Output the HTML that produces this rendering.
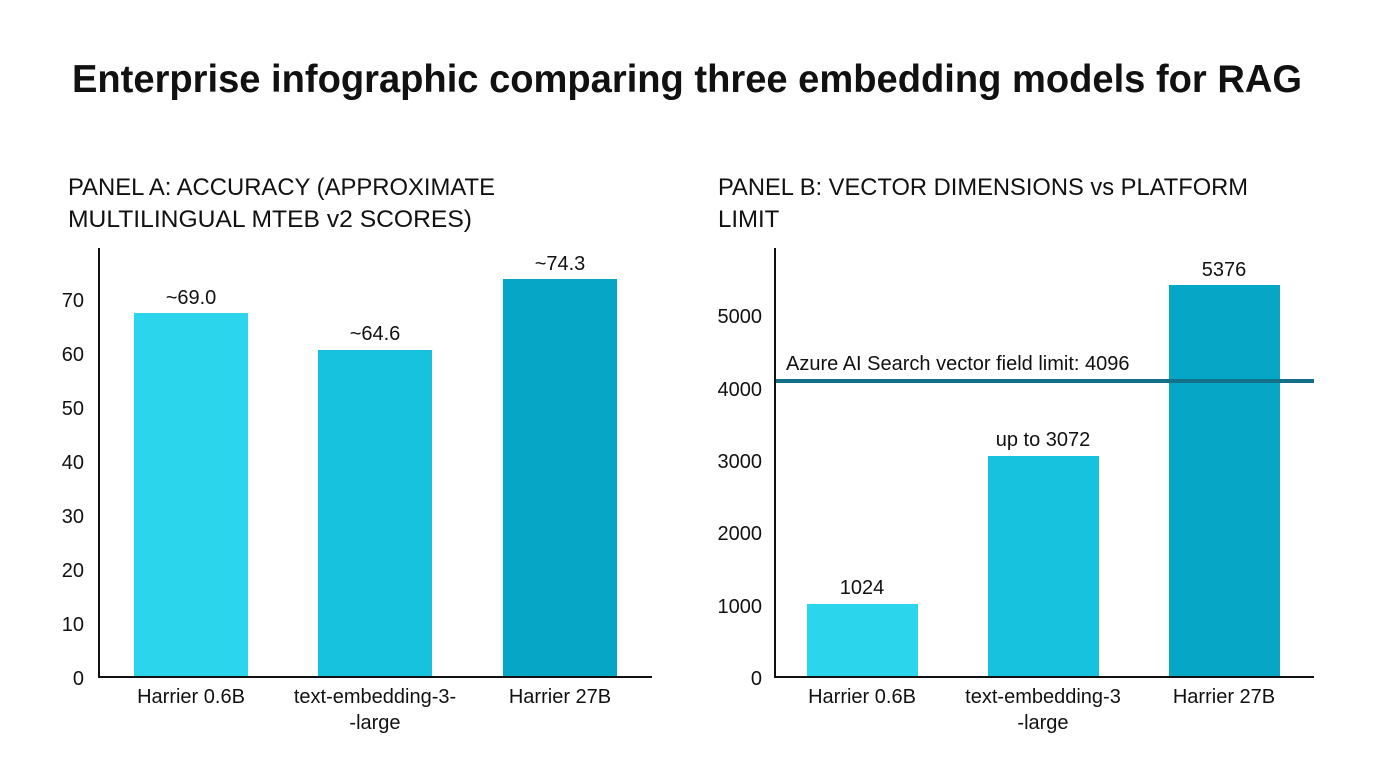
<!DOCTYPE html>
<html><head><meta charset="utf-8"><style>
body{margin:0;background:#fff;}
svg text{font-family:"Liberation Sans",sans-serif;fill:#111;}
</style></head><body>
<svg width="1376" height="768" xmlns="http://www.w3.org/2000/svg">
<text x="687" y="92" font-size="39" font-weight="bold" text-anchor="middle" textLength="1230" lengthAdjust="spacingAndGlyphs">Enterprise infographic comparing three embedding models for RAG</text>
<text x="68" y="195" font-size="24" textLength="427" lengthAdjust="spacingAndGlyphs">PANEL A: ACCURACY (APPROXIMATE</text>
<text x="68" y="227" font-size="24" textLength="404" lengthAdjust="spacingAndGlyphs">MULTILINGUAL MTEB v2 SCORES)</text>
<text x="718" y="195" font-size="24" textLength="530" lengthAdjust="spacingAndGlyphs">PANEL B: VECTOR DIMENSIONS vs PLATFORM</text>
<text x="718" y="227" font-size="24">LIMIT</text>
<g font-size="20" text-anchor="end">
<text x="84" y="685">0</text><text x="84" y="631">10</text><text x="84" y="577">20</text><text x="84" y="523">30</text><text x="84" y="469">40</text><text x="84" y="415">50</text><text x="84" y="361">60</text><text x="84" y="307">70</text>
<text x="762" y="685">0</text><text x="762" y="613">1000</text><text x="762" y="540">2000</text><text x="762" y="468">3000</text><text x="762" y="396">4000</text><text x="762" y="323">5000</text>
</g>
<rect x="134" y="313" width="114" height="364" fill="#2bd5ec"/>
<rect x="318" y="350" width="114" height="327" fill="#17c2de"/>
<rect x="503" y="279" width="114" height="398" fill="#06a6c7"/>
<rect x="807" y="604" width="111" height="73" fill="#2bd5ec"/>
<rect x="988" y="456" width="111" height="221" fill="#17c2de"/>
<rect x="1169" y="285" width="111" height="392" fill="#06a6c7"/>
<line x1="775" y1="381" x2="1314" y2="381" stroke="#146f88" stroke-width="4"/>
<path d="M99 248V677H652" stroke="#111" stroke-width="2" fill="none"/>
<path d="M775 248V677H1314" stroke="#111" stroke-width="2" fill="none"/>
<g font-size="20" text-anchor="middle">
<text x="191" y="304">~69.0</text><text x="375" y="340">~64.6</text><text x="560" y="270">~74.3</text>
<text x="862" y="594">1024</text><text x="1043" y="446">up to 3072</text><text x="1224" y="276">5376</text>
<text x="191" y="703">Harrier 0.6B</text><text x="375" y="703">text-embedding-3-</text><text x="375" y="729">-large</text><text x="560" y="703">Harrier 27B</text>
<text x="862" y="703">Harrier 0.6B</text><text x="1043" y="703">text-embedding-3</text><text x="1043" y="729">-large</text><text x="1224" y="703">Harrier 27B</text>
</g>
<text x="786" y="370" font-size="20">Azure AI Search vector field limit: 4096</text>
</svg>
</body></html>
